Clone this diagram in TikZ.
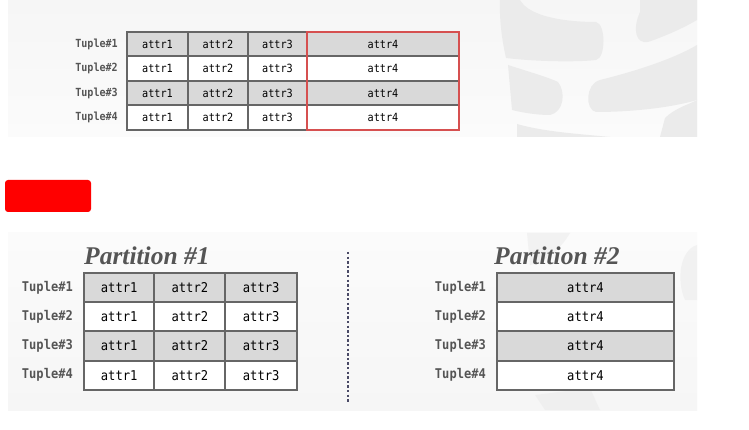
\documentclass[tikz,border=0pt]{standalone}
\usepackage{fontspec}
\newfontfamily\cellfont{DejaVu Sans Mono}[FakeStretch=0.9]
\newfontfamily\titlefont{Liberation Serif}[FakeStretch=1.0]
\definecolor{bordergray}{HTML}{666666}
\definecolor{cellgray}{HTML}{D9D9D9}
\definecolor{labgray}{HTML}{555555}
\definecolor{selred}{HTML}{D65050}
\definecolor{wm}{HTML}{EBEBEB}
\definecolor{panel}{HTML}{F6F6F6}
\definecolor{panelb}{HTML}{FBFBFB}
\definecolor{dotcol}{HTML}{4A4A66}
\usetikzlibrary{positioning}
\tikzset{
  cellbox/.style={draw=bordergray, line width=2pt, inner sep=0pt, anchor=center, text=black},
  topcell/.style={cellbox, minimum height=24.5pt, font=\cellfont\fontsize{11.3}{12}\selectfont},
  botcell/.style={cellbox, minimum height=29.2pt, font=\cellfont\fontsize{13.5}{14}\selectfont},
  shade/.style={fill=cellgray},
  plain/.style={fill=white},
  toplab/.style={anchor=east, inner sep=0pt, text=labgray, font=\cellfont\bfseries\fontsize{11.2}{12}\selectfont},
  botlab/.style={anchor=east, inner sep=0pt, text=labgray, font=\cellfont\bfseries\fontsize{13.4}{14}\selectfont},
  ptitle/.style={anchor=base west, inner sep=0pt, text=labgray, font=\titlefont\bfseries\itshape\fontsize{25.5}{26}\selectfont},
}
\begin{document}
\begin{tikzpicture}[x=1pt,y=-1pt]
\useasboundingbox (0,0) rectangle (749,430);
\fill[white] (0,0) rectangle (749,430);
% panels
\shade[top color=panel, bottom color=panelb] (8,0) rectangle (697,137);
\shade[top color=panelb, bottom color=panel] (8,233) rectangle (697,410);
% watermark top
\begin{scope}
\clip (8,0) rectangle (697,137);
\fill[wm] (500,-5) .. controls (499,20) and (502,40) .. (506,58) .. controls (540,62) and (580,62) .. (596,60)
  .. controls (606,58) and (606,24) .. (596,22) .. controls (570,22) and (530,18) .. (520,0) -- cycle;
\fill[wm] (640,0) -- (697,0) -- (697,20) .. controls (680,30) and (660,38) .. (648,42) .. controls (636,44) and (632,30) .. (640,12) -- cycle;
\fill[wm] (508,65) .. controls (530,72) and (550,78) .. (558,82) .. controls (566,92) and (564,112) .. (550,115)
  .. controls (535,115) and (520,112) .. (512,110) -- cycle;
\fill[wm] (600,80) .. controls (640,70) and (675,58) .. (697,45) -- (697,100) .. controls (670,108) and (630,112) .. (596,112)
  .. controls (585,110) and (585,84) .. (600,80) -- cycle;
\fill[wm] (517,124) .. controls (545,132) and (580,134) .. (610,137) -- (517,137) -- cycle;
\fill[wm] (665,118) .. controls (675,108) and (690,104) .. (697,100) -- (697,137) -- (660,137) -- cycle;
\end{scope}
% watermark bottom
\begin{scope}
\clip (8,233) rectangle (697,410);
\fill[wm, opacity=0.55] (527,233) -- (570,233) .. controls (560,250) and (545,262) .. (530,265) -- cycle;
\fill[wm, opacity=0.55] (697,245) .. controls (680,250) and (676,280) .. (685,300) -- (697,300) -- cycle;
\fill[wm, opacity=0.55] (535,395) -- (590,388) -- (600,410) -- (545,410) -- cycle;
\end{scope}

% ---------- top table ----------
\foreach \r/\y/\s in {1/44.25/shade,2/68.75/plain,3/93.25/shade,4/117.75/plain}{
  \node[topcell,\s,minimum width=61pt] (t\r a) at (157.5,\y) {attr1};
  \node[topcell,\s,minimum width=60pt] (t\r b) at (218,\y) {attr2};
  \node[topcell,\s,minimum width=59pt] (t\r c) at (277.5,\y) {attr3};
  \node[topcell,\s,minimum width=152pt] (t\r d) at (383,\y) {attr4};
  \node[toplab] (tl\r) at (118,\y) {Tuple\#\r};
}
\node[draw=selred, line width=2pt, minimum width=152pt, minimum height=98pt, inner sep=0pt] (sel) at (383,81.5) {};

% red block
\node[fill=red, rounded corners=3pt, minimum width=86pt, minimum height=32pt, inner sep=0pt] (redblock) at (48,196) {};

% ---------- partition 1 ----------
\node[ptitle] (p1title) at (84,265) {Partition \#1};
\foreach \r/\y/\s in {1/287.6/shade,2/316.8/plain,3/346/shade,4/375.2/plain}{
  \node[botcell,\s,minimum width=70.3pt] (p\r a) at (119.2,\y) {attr1};
  \node[botcell,\s,minimum width=71.2pt] (p\r b) at (189.9,\y) {attr2};
  \node[botcell,\s,minimum width=71.5pt] (p\r c) at (261.2,\y) {attr3};
  \node[botlab] (pl\r) at (73,\y) {Tuple\#\r};
}

% divider
\coordinate (dtop) at (348,252);
\coordinate (dbot) at (348,402);
\draw[dotcol, line width=2.8pt, dash pattern=on 2.4pt off 2.2pt] (dtop) -- (dbot);

% ---------- partition 2 ----------
\node[ptitle] (p2title) at (494,265) {Partition \#2};
\foreach \r/\y/\s in {1/287.6/shade,2/316.8/plain,3/346/shade,4/375.2/plain}{
  \node[botcell,\s,minimum width=177pt] (q\r) at (585.5,\y) {attr4};
  \node[botlab] (ql\r) at (486,\y) {Tuple\#\r};
}
\end{tikzpicture}
\end{document}
